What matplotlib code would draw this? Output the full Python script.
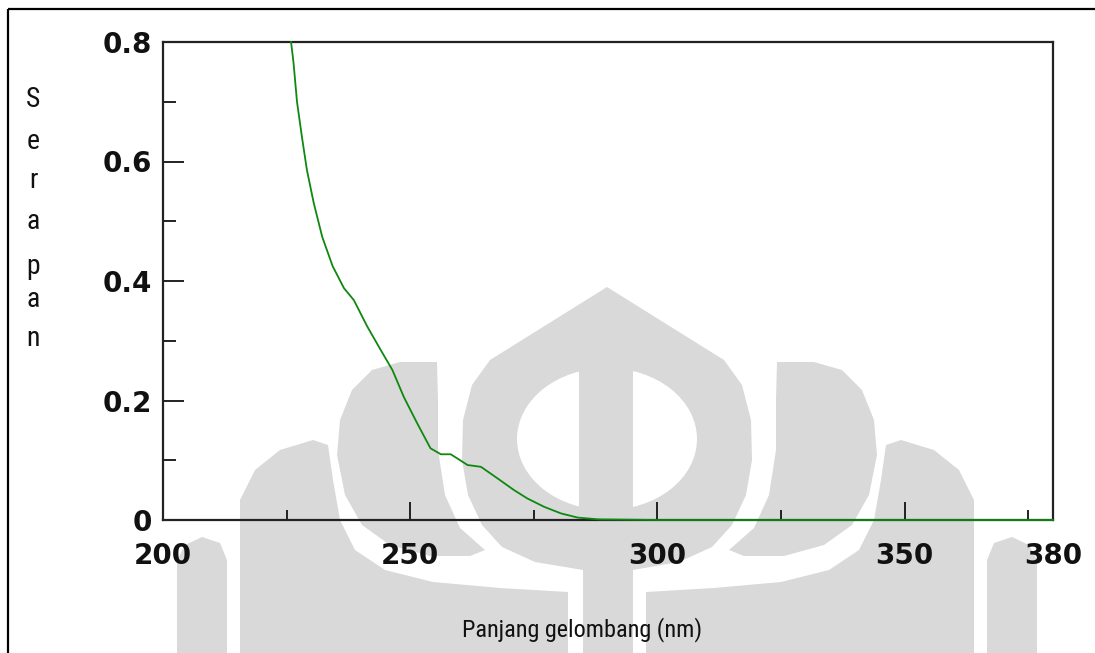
import matplotlib
matplotlib.use("Agg")
import matplotlib.pyplot as plt
import matplotlib.font_manager as fm
from matplotlib.font_manager import FontProperties
from matplotlib.patches import Polygon, Ellipse, Rectangle

# UV spectrum: absorbance vs wavelength
wavelength = [225.9, 226.4, 227.1, 228.1, 229.1, 230.5, 232.2, 234.3, 236.6,
              238.6, 241.3, 244.0, 246.4, 248.7, 251.4, 254.1, 256.2, 258.2,
              261.6, 264.3, 267.6, 271.0, 273.7, 277.1, 280.5, 283.9, 288.2,
              300.0, 320.0, 340.0, 360.0, 380.0]
absorbance = [0.800, 0.765, 0.700, 0.641, 0.586, 0.530, 0.474, 0.425, 0.388,
              0.368, 0.324, 0.285, 0.251, 0.206, 0.162, 0.120, 0.110, 0.110,
              0.092, 0.089, 0.070, 0.050, 0.036, 0.022, 0.011, 0.004, 0.001,
              0.0, 0.0, 0.0, 0.0, 0.0]

x_ticks = [200, 250, 300, 350, 380]
x_minor = [225, 275, 325, 375]
y_ticks = [0, 0.2, 0.4, 0.6, 0.8]
y_tick_labels = ["0", "0.2", "0.4", "0.6", "0.8"]
y_minor = [0.1, 0.3, 0.5, 0.7]
ylabel_letters = list("Serapan")
xlabel = "Panjang gelombang (nm)"


def narrow_font():
    # look for a condensed sans face; fall back to Liberation Sans
    prefs = ["liberationsansnarrow-regular", "robotocondensed-regular",
             "dejavusanscondensed.", "opensans_condensed-regular",
             "opensanscondensed"]
    files = [f.fname for f in fm.fontManager.ttflist]
    for p in prefs:
        for fn in files:
            if p in fn.lower().replace(" ", ""):
                return fn
    for f in fm.fontManager.ttflist:
        n = (f.name + f.fname).lower()
        if ("narrow" in n or "condensed" in n) and "mono" not in n \
                and "bold" not in n and "italic" not in n and "oblique" not in n:
            return f.fname
    return None


def narrow_props(size):
    fn = narrow_font()
    if fn:
        return FontProperties(fname=fn, size=size)
    return FontProperties(family="Liberation Sans", size=size)


W, H = 1095, 653
fig = plt.figure(figsize=(W / 100, H / 100), dpi=100)
fig.patch.set_facecolor("white")

# background layer in pixel units (watermark, frame, labels)
bg = fig.add_axes([0, 0, 1, 1])
bg.set_xlim(0, W)
bg.set_ylim(H, 0)
bg.axis("off")

wm = "#d9d9d9"
cx = 607


def mirror(pts):
    return [(2 * cx - x, y) for x, y in pts]


central = [(607, 287), (490, 360), (472, 385), (463, 420), (462, 460), (468, 495),
           (482, 525), (502, 547), (535, 562), (583, 570), (583, 653), (633, 653),
           (633, 570), (679, 562), (712, 547), (732, 525), (746, 495), (752, 460),
           (751, 420), (742, 385), (724, 360)]
leaf = [(337, 455), (340, 420), (352, 390), (372, 370), (400, 362), (437, 362),
        (438, 400), (438, 450), (445, 495), (460, 528), (485, 550), (470, 556),
        (430, 556), (390, 545), (362, 525), (345, 495)]
outer = [(240, 653), (240, 500), (255, 470), (280, 450), (313, 440), (328, 445),
         (333, 480), (340, 520), (355, 550), (385, 570), (433, 582), (500, 588),
         (568, 592), (568, 653)]
rim = [(177, 653), (177, 560), (185, 545), (202, 537), (220, 543), (227, 560),
       (227, 653)]

for shape in (leaf, outer, rim):
    bg.add_patch(Polygon(shape, closed=True, fc=wm, ec="none"))
    bg.add_patch(Polygon(mirror(shape), closed=True, fc=wm, ec="none"))
bg.add_patch(Polygon(central, closed=True, fc=wm, ec="none"))
bg.add_patch(Ellipse((607, 439), 180, 142, fc="white", ec="none"))
bg.add_patch(Rectangle((579, 366), 54, 148, fc=wm, ec="none"))

# frame lines
bg.plot([7.5, 7.5], [9, H], color="black", lw=1.6, solid_capstyle="butt")
bg.plot([7.5, W], [9, 9], color="black", lw=1.6, solid_capstyle="butt")

# axis titles in a narrow face; x title scaled to span about 240 px
fp = narrow_props(18)
xt = bg.text(582, 636, xlabel, ha="center", va="baseline",
             fontproperties=fp, color="#111111")
fig.canvas.draw()
wpx = xt.get_window_extent().width
fp.set_size(18 * 240.0 / wpx)
xt.set_fontproperties(fp)

fp_letters = narrow_props(20)
letter_base = [107, 149, 188, 229, 274, 307, 346]
for ch, yb in zip(ylabel_letters, letter_base):
    bg.text(33, yb, ch, ha="center", va="baseline", fontproperties=fp_letters,
            color="#111111")

# chart
ax = fig.add_axes([163 / W, 1 - 520 / H, 890 / W, 478 / H])
ax.patch.set_alpha(0)
ax.plot(wavelength, absorbance, color="#0e880e", lw=1.3, clip_on=False, zorder=3)

ax.set_xlim(200, 380)
ax.set_ylim(0, 0.8)
ax.set_xticks(x_ticks)
ax.set_xticklabels([str(v) for v in x_ticks])
ax.set_xticks(x_minor, minor=True)
ax.set_yticks(y_ticks)
ax.set_yticklabels(y_tick_labels)
ax.set_yticks(y_minor, minor=True)

for s in ax.spines.values():
    s.set_color("#222222")
    s.set_linewidth(1.6)

ax.tick_params(axis="x", which="major", direction="in", length=13, width=1.4,
               pad=16, labelsize=20, colors="#222222", labelcolor="#111111")
ax.tick_params(axis="x", which="minor", direction="in", length=7.2, width=1.4,
               colors="#222222")
ax.tick_params(axis="y", which="major", direction="in", length=15, width=1.4,
               pad=8, labelsize=20, colors="#222222", labelcolor="#111111")
ax.tick_params(axis="y", which="minor", direction="in", length=9.4, width=1.4,
               colors="#222222")
for lab in ax.get_xticklabels() + ax.get_yticklabels():
    lab.set_family("DejaVu Sans")
    lab.set_fontweight("bold")

fig.savefig("out.png", dpi=100)
